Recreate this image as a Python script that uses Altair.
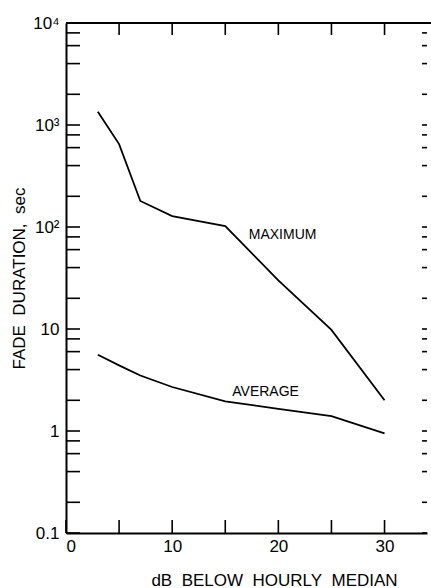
import altair as alt
import pandas as pd

# Data
db_levels = [3, 5, 7, 10, 15, 20, 25, 30]
max_duration = [1350, 650, 180, 128, 102, 30, 9.8, 2.0]
avg_duration = [5.6, 4.4, 3.5, 2.7, 1.95, 1.65, 1.4, 0.95]

curve_labels = ["MAXIMUM", "AVERAGE"]
curve_label_x = [20.4, 18.8]
curve_label_y = [83, 2.4]

x_ticks = [0, 5, 10, 15, 20, 25, 30]
x_top_ticks = [5, 10, 15, 20, 25, 30]
x_labels = [0, 10, 20, 30]
y_major = [0.1, 1, 10, 100, 1000, 10000]
y_ticks = [v * m for v in [0.1, 1, 10, 100, 1000] for m in [1, 2, 4, 6, 8]] + [10000]

W, H = 361, 510
FONT = "Liberation Sans, Arial"
SP = "\u00a0\u00a0"

df = pd.DataFrame({
    "db": db_levels * 2,
    "dur": max_duration + avg_duration,
    "series": ["MAXIMUM"] * len(db_levels) + ["AVERAGE"] * len(db_levels),
})

xscale = alt.Scale(domain=[0, 34], nice=False, zero=False)
yscale = alt.Scale(type="log", domain=[0.1, 10000], nice=False)

lines = alt.Chart(df).mark_line(color="black", strokeWidth=1.8).encode(
    x=alt.X("db:Q", scale=xscale,
            axis=alt.Axis(values=x_labels, ticks=False, domain=True, grid=False,
                          domainColor="black", domainWidth=2,
                          labelFont=FONT, labelFontSize=17, labelColor="black",
                          labelPadding=5,
                          title=SP.join(["dB", "BELOW", "HOURLY", "MEDIAN"]),
                          titleFont=FONT, titleFontSize=17,
                          titleFontWeight="normal", titleColor="black",
                          titleX=208, titleY=47, titleBaseline="middle")),
    y=alt.Y("dur:Q", scale=yscale,
            axis=alt.Axis(values=y_major, ticks=False, domain=True, grid=False,
                          domainColor="black", domainWidth=2,
                          labelExpr="datum.value >= 10000 ? '10\u2074' : datum.value >= 1000 ? '10\u00b3' : datum.value >= 100 ? '10\u00b2' : datum.value >= 10 ? '10' : datum.value >= 1 ? '1' : '0.1'",
                          labelFont=FONT, labelFontSize=17, labelColor="black",
                          labelPadding=7,
                          title=SP.join(["FADE", "DURATION,", "sec"]),
                          titleFont=FONT, titleFontSize=17,
                          titleFontWeight="normal", titleColor="black",
                          titleX=-47, titleBaseline="middle")),
    detail="series:N",
)

bottom_ticks = alt.Chart(pd.DataFrame({"x": x_ticks})).mark_rule(color="black", strokeWidth=1.6).encode(
    x=alt.X("x:Q", scale=xscale), y=alt.value(H), y2=alt.value(H - 13))
top_ticks = alt.Chart(pd.DataFrame({"x": x_top_ticks})).mark_rule(color="black", strokeWidth=1.6).encode(
    x=alt.X("x:Q", scale=xscale), y=alt.value(0), y2=alt.value(12))
left_ticks = alt.Chart(pd.DataFrame({"y": y_ticks})).mark_rule(color="black", strokeWidth=1.6).encode(
    y=alt.Y("y:Q", scale=yscale), x=alt.value(0), x2=alt.value(14))
right_ticks = alt.Chart(pd.DataFrame({"y": y_ticks})).mark_rule(color="black", strokeWidth=1.6).encode(
    y=alt.Y("y:Q", scale=yscale), x=alt.value(W - 5), x2=alt.value(W))
top_line = alt.Chart(pd.DataFrame({"y": [10000]})).mark_rule(color="black", strokeWidth=2).encode(
    y=alt.Y("y:Q", scale=yscale), x=alt.value(0), x2=alt.value(W + 4))

labels = alt.Chart(pd.DataFrame({"label": curve_labels, "x": curve_label_x, "y": curve_label_y})).mark_text(
    font=FONT, fontSize=14, color="black", align="center", baseline="middle"
).encode(x=alt.X("x:Q", scale=xscale), y=alt.Y("y:Q", scale=yscale), text="label:N")

chart = alt.layer(lines, bottom_ticks, top_ticks, left_ticks, right_ticks, top_line, labels).properties(
    width=W, height=H,
    autosize=alt.AutoSizeParams(type="none"),
    padding={"left": 66, "top": 23, "right": 4, "bottom": 55},
    background="white",
).configure_view(stroke=None)

chart.save("out.html", embed_options={"renderer": "svg", "actions": False})
